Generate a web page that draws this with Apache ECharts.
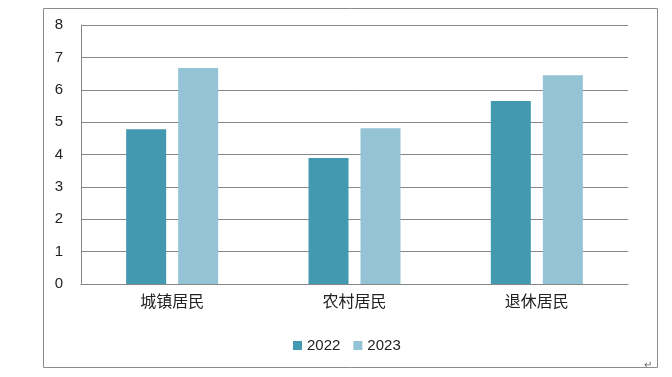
<!DOCTYPE html>
<html>
<head>
<meta charset="utf-8">
<script src="https://cdn.jsdelivr.net/npm/echarts@6/dist/echarts.min.js"></script>
<style>
  html, body { margin: 0; padding: 0; background: #fff; }
  #chart { width: 672px; height: 377px; }
</style>
</head>
<body>
<div id="chart"></div>
<script>
var categories = ['城镇居民', '农村居民', '退休居民'];
var seriesNames = ['2022', '2023'];
var values2022 = [4.78, 3.89, 5.65];
var values2023 = [6.67, 4.81, 6.45];

var chart = echarts.init(document.getElementById('chart'));
var font = '"Liberation Sans", "Noto Sans CJK SC", sans-serif';
var option = {
    animation: false,
    color: ['#4399B0', '#93C3D4'],
    textStyle: { fontFamily: font },
    grid: { left: 81, right: 44, top: 25, bottom: 93 },
    graphic: [
        {
            type: 'rect',
            shape: { x: 43.5, y: 8.5, width: 614, height: 359 },
            style: { fill: 'none', stroke: '#8c8c8c', lineWidth: 1 }
        },
        {
            type: 'text',
            left: 644, top: 360,
            style: { text: '↵', fontSize: 10, fill: '#666' }
        }
    ],
    legend: {
        data: seriesNames,
        left: 288,
        top: 333,
        icon: 'rect',
        itemWidth: 9,
        itemHeight: 9,
        itemGap: 13,
        textStyle: { fontSize: 15, color: '#222', fontFamily: font }
    },
    xAxis: {
        type: 'category',
        data: categories,
        axisTick: { show: false },
        axisLine: { lineStyle: { color: '#878787' } },
        axisLabel: { color: '#222', fontSize: 16, margin: 11, fontFamily: font }
    },
    yAxis: {
        type: 'value',
        min: 0,
        max: 8,
        interval: 1,
        axisLine: { show: true, lineStyle: { color: '#878787' } },
        axisTick: { show: false },
        splitLine: { lineStyle: { color: '#878787' } },
        axisLabel: { color: '#222', fontSize: 15, margin: 18, fontFamily: font }
    },
    series: [
        {
            name: seriesNames[0],
            type: 'bar',
            data: values2022,
            barWidth: 40,
            barGap: '30%'
        },
        {
            name: seriesNames[1],
            type: 'bar',
            data: values2023,
            barWidth: 40,
            barGap: '30%'
        }
    ]
};
chart.setOption(option);
</script>
</body>
</html>
